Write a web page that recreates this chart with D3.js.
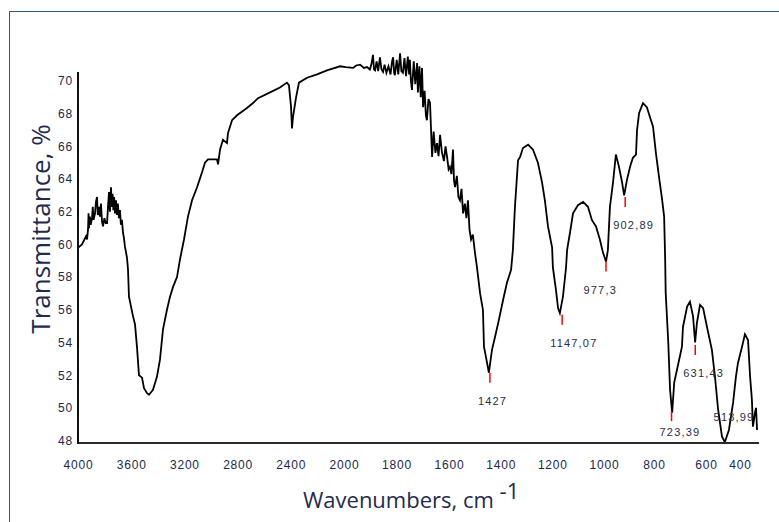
<!DOCTYPE html>
<html>
<head>
<meta charset="utf-8">
<script src="https://cdn.jsdelivr.net/npm/d3@7"></script>
<style>
  body { margin: 0; background: #fff; }
  svg { display: block; }
</style>
</head>
<body>
<svg id="chart" width="779" height="522"></svg>
<script>
// IR spectrum: wavenumber (cm-1) and transmittance (%)
var wavenumbers = [
    4000, 3970, 3939, 3932, 3924, 3920, 3917, 3910, 3904, 3894, 3888, 3882, 3871, 3864,
    3856, 3850, 3841, 3834, 3826, 3818, 3811, 3800, 3790, 3780, 3772, 3765, 3758, 3750,
    3744, 3738, 3732, 3726, 3720, 3712, 3705, 3698, 3690, 3682, 3675, 3667, 3659, 3652,
    3644, 3629, 3621, 3614, 3583, 3568, 3553, 3538, 3515, 3500, 3477, 3462, 3432, 3417,
    3402, 3379, 3356, 3326, 3303, 3280, 3250, 3227, 3197, 3167, 3136, 3098, 3061, 3038,
    3015, 2947, 2939, 2924, 2902, 2871, 2864, 2833, 2795, 2720, 2674, 2636, 2545, 2470,
    2417, 2402, 2386, 2379, 2371, 2348, 2326, 2265, 2189, 2114,
    2015, 1985, 1957, 1945, 1930, 1915, 1903, 1892, 1885, 1880, 1876, 1872, 1866, 1860,
    1853, 1847, 1841, 1835, 1828, 1820, 1812, 1806, 1802, 1798, 1795, 1788, 1782, 1775,
    1770, 1764, 1758, 1752, 1745, 1740, 1737, 1733, 1729, 1722, 1716, 1709, 1706, 1700,
    1695, 1690, 1686, 1680, 1675, 1671, 1665, 1659, 1655, 1651, 1645, 1638, 1632, 1626,
    1620, 1613, 1605, 1599, 1593, 1587, 1582, 1576, 1570, 1566, 1562, 1555, 1549, 1543,
    1537, 1531, 1524, 1518, 1512, 1506, 1500, 1493, 1485,
    1477, 1465, 1454, 1450, 1438, 1431, 1419, 1407, 1392, 1376, 1361, 1345, 1338,
    1330, 1318, 1310, 1299, 1279, 1260, 1241, 1225, 1214, 1202, 1186, 1183, 1171, 1163,
    1156, 1144, 1132, 1128, 1117, 1105, 1086, 1066, 1047, 1032, 1016, 1001, 989, 977,
    970, 962, 950, 939, 927, 915, 907, 896, 884, 873, 861, 857, 849, 834,
    819, 807, 795, 784, 772, 760, 752, 748, 746, 736, 729, 721, 713, 702,
    683, 679, 663, 652, 640, 632, 625, 613, 601, 586, 567, 555, 543, 528,
    517, 501, 485, 474, 466, 450, 439, 427, 419, 412, 408, 400, 396, 392
];
var transmittance = [
    59.8, 60.0, 60.5, 60.3, 60.9, 61.9, 61.0, 61.7, 61.2, 61.6, 62.3, 61.5, 61.9, 62.6,
    62.9, 61.8, 62.3, 61.7, 62.5, 61.4, 61.1, 61.6, 61.3, 61.3, 62.4, 63.2, 62.0, 63.5,
    62.3, 63.1, 62.1, 62.9, 61.9, 62.7, 61.8, 62.5, 61.6, 62.1, 61.2, 61.5, 60.7, 60.4,
    59.85, 59.2, 58.45, 56.8, 55.6, 55.1, 53.7, 52.0, 51.85, 51.2, 50.9, 50.8, 51.1, 51.5,
    51.9, 52.95, 54.8, 56.0, 56.8, 57.4, 58.0, 59.1, 60.3, 61.7, 62.7, 63.5, 64.4, 65.0,
    65.2, 65.2, 64.9, 65.8, 66.4, 66.2, 66.8, 67.6, 67.9, 68.35, 68.65, 68.95, 69.3, 69.6,
    69.9, 69.75, 68.4, 67.1, 67.8, 69.0, 69.9, 70.2, 70.4, 70.65,
    70.9, 70.85, 70.8, 70.95, 71.0, 70.8, 70.85, 70.7, 71.1, 71.6, 70.7, 70.65, 71.2, 70.6,
    71.45, 70.7, 70.55, 71.0, 70.5, 70.9, 70.4, 71.2, 71.45, 70.5, 70.35, 71.3, 70.4, 71.7,
    70.6, 70.5, 71.4, 70.3, 71.5, 70.4, 71.3, 70.0, 69.45, 71.2, 69.8, 71.1, 69.3, 70.9,
    69.0, 70.8, 68.4, 69.4, 67.9, 67.6, 68.9, 68.65, 67.0, 65.35, 66.9, 65.6, 66.2, 65.4,
    66.7, 65.65, 65.1, 66.0, 65.35, 64.6, 64.75, 64.3, 65.8, 63.9, 63.5, 64.2, 62.9, 62.7,
    63.4, 61.9, 62.5, 61.6, 62.7, 60.9, 60.3, 60.6, 59.5,
    58.6, 57.0, 56.0, 53.75, 52.75, 52.15, 53.55, 54.35, 55.4, 56.6, 57.65, 58.45, 59.65,
    62.3, 65.15, 65.35, 65.9, 66.1, 65.8, 65.0, 63.8, 62.7, 61.1, 59.8, 58.6, 57.2, 56.1,
    55.8, 56.8, 58.6, 59.65, 60.7, 61.9, 62.4, 62.6, 62.3, 61.5, 61.1, 60.3, 59.5, 58.95,
    59.65, 62.3, 63.8, 65.5, 64.75, 63.8, 63.0, 63.95, 64.75, 65.3, 65.5, 67.0, 68.05, 68.65,
    68.4, 67.8, 67.2, 65.6, 64.15, 62.75, 61.7, 59.05, 57.05, 54.0, 51.1, 49.7, 51.55, 52.35,
    53.75, 54.95, 56.2, 56.5, 55.6, 54.0, 55.2, 56.3, 56.1, 54.95, 53.55, 51.9, 49.9, 48.25,
    47.9, 48.65, 50.3, 51.9, 52.75, 53.75, 54.5, 54.15, 51.9, 50.5, 48.85, 49.7, 50.0, 48.65
];

// marked peaks
var peakWavenumbers = [1427, 1147.07, 977.3, 902.89, 723.39, 631.43, 513.99];
var peakTransmittance = [52.15, 55.7, 58.95, 62.9, 49.8, 53.85, 47.9];
var peakLabels = ["1427", "1147,07", "977,3", "902,89", "723,39", "631,43", "513,99"];
var peakAnchor = ["start", "start", "end", "start", "start", "start", "start"];

var xTickValues = [4000, 3600, 3200, 2800, 2400, 2000, 1800, 1600, 1400, 1200, 1000, 800, 600, 400];
var yTickValues = [48, 50, 52, 54, 56, 58, 60, 62, 64, 66, 68, 70];

var svg = d3.select("#chart");
var labelColor = "#22284a";
var titleColor = "#1f2b4d";

// frame around the figure
svg.append("rect")
    .attr("x", 9.5).attr("y", 11.5)
    .attr("width", 800).attr("height", 540)
    .attr("fill", "none")
    .attr("stroke", "#2b5a86")
    .attr("stroke-width", 1);

// data scale (the spectrum is drawn with 2x expansion below 2000 cm-1)
var x = d3.scaleLinear()
    .domain([4000, 2000, 400])
    .range([78, 342, 755]);

// the printed tick labels of the original sit slightly off the data scale
var xTick = d3.scaleLinear()
    .domain([4000, 2000, 1600, 1000, 800, 600, 400])
    .range([78, 344, 449, 604, 654, 706, 740]);

var y = d3.scaleLinear()
    .domain([47.85, 70.55])
    .range([443, 72]);

var points = wavenumbers.map(function (w, i) {
    return [w, transmittance[i]];
});

var line = d3.line()
    .x(function (d) { return x(d[0]); })
    .y(function (d) { return y(Math.max(d[1], y.domain()[0])); });

svg.append("path")
    .datum(points)
    .attr("d", line)
    .attr("fill", "none")
    .attr("stroke", "#000")
    .attr("stroke-width", 1.8)
    .attr("stroke-linejoin", "miter");

// axes
var yAxis = d3.axisLeft(y)
    .tickValues(yTickValues)
    .tickSize(0)
    .tickPadding(5);

var gy = svg.append("g")
    .attr("transform", "translate(" + x(4000) + ",0)")
    .call(yAxis);
gy.select(".domain").remove();

var xAxis = d3.axisBottom(xTick)
    .tickValues(xTickValues)
    .tickSize(0)
    .tickPadding(17)
    .tickFormat(d3.format("d"));

var gx = svg.append("g")
    .attr("transform", "translate(0," + y.range()[0] + ")")
    .call(xAxis);
gx.select(".domain").remove();

svg.selectAll(".tick text")
    .attr("font-family", "'Liberation Sans', Arial, sans-serif")
    .attr("font-size", 12)
    .attr("letter-spacing", 0.8)
    .attr("fill", labelColor);

var xEnd = x(d3.min(wavenumbers)) + 2;
svg.append("line")
    .attr("x1", x(4000)).attr("x2", xEnd)
    .attr("y1", y.range()[0]).attr("y2", y.range()[0])
    .attr("stroke", "#2a2a2a").attr("stroke-width", 2);
svg.append("line")
    .attr("x1", x(4000)).attr("x2", x(4000))
    .attr("y1", y.range()[1]).attr("y2", y.range()[0] + 1)
    .attr("stroke", "#111").attr("stroke-width", 2);

// peak marks and labels
var peaks = svg.append("g");
var bottom = y.range()[0];
peakWavenumbers.forEach(function (w, i) {
    var px = x(w);
    var py = y(peakTransmittance[i]);
    var low = py + 22 > bottom;
    if (!low) {
        peaks.append("line")
            .attr("x1", px).attr("x2", px)
            .attr("y1", py).attr("y2", py + 10)
            .attr("stroke", "#ff0000")
            .attr("stroke-width", 1.5);
    }
    var ty = low ? bottom - 22 : Math.min(py + 32, bottom - 7);
    peaks.append("text")
        .attr("x", peakAnchor[i] === "end" ? px + 11 : px - 12)
        .attr("y", ty)
        .attr("text-anchor", peakAnchor[i])
        .attr("font-family", "'Liberation Sans', Arial, sans-serif")
        .attr("font-size", 11)
        .attr("letter-spacing", 1.2)
        .attr("fill", "#2a2d45")
        .text(peakLabels[i]);
});

// axis titles
svg.append("text")
    .attr("transform", "translate(50,229) rotate(-90)")
    .attr("text-anchor", "middle")
    .attr("font-family", "'Open Sans', 'Noto Sans', sans-serif")
    .attr("font-size", 26)
    .attr("fill", titleColor)
    .text("Transmittance, %");

var xTitle = svg.append("text")
    .attr("x", 303)
    .attr("y", 508)
    .attr("font-family", "'Open Sans', 'Noto Sans', sans-serif")
    .attr("font-size", 22)
    .attr("fill", titleColor)
    .text("Wavenumbers, cm ");
xTitle.append("tspan")
    .attr("dy", -9)
    .attr("font-size", 22)
    .text("-1");
</script>
</body>
</html>
